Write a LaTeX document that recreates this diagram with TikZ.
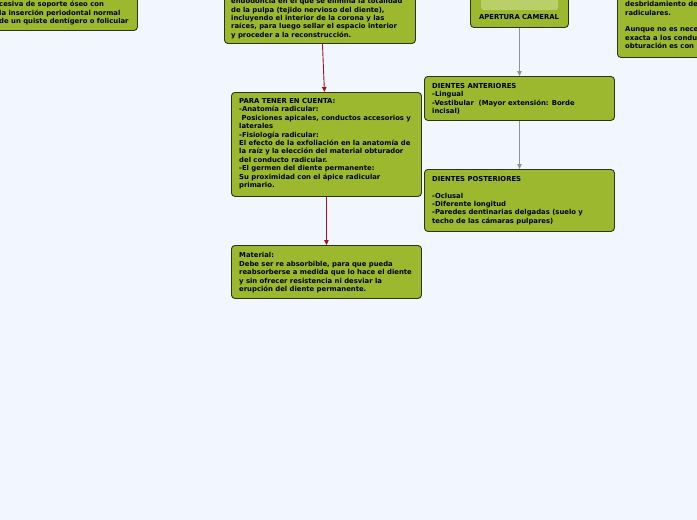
\documentclass[tikz,border=0pt]{standalone}
\usepackage{fontspec}
\setmainfont{DejaVu Sans}
\usetikzlibrary{arrows.meta}
\definecolor{bg}{HTML}{F2F6FE}
\definecolor{boxfill}{HTML}{9CB82E}
\definecolor{boxline}{HTML}{2E3318}
\definecolor{innerfill}{HTML}{B8CF6A}
\definecolor{redarrow}{HTML}{A3141C}
\definecolor{grayarrow}{HTML}{8F9296}
\begin{document}
\begin{tikzpicture}[x=1pt,y=1pt,
  box/.style={draw=boxline, fill=boxfill, line width=0.9pt, rounded corners=3.5pt, anchor=north west, inner sep=0pt},
  innerbox/.style={fill=innerfill, rounded corners=3pt, anchor=north west, inner sep=0pt},
  txt/.style={anchor=north west, inner sep=0pt, align=left, font=\fontsize{6.85}{8.4}\selectfont\bfseries, text=black},
  redline/.style={draw=redarrow, line width=0.9pt, -{Triangle[length=5pt,width=4.5pt]}},
  grayline/.style={draw=grayarrow, line width=0.9pt, -{Triangle[length=5pt,width=4.5pt]}}]
\fill[bg] (0,0) rectangle (697,-520);
\useasboundingbox (0,0) rectangle (697,-520);
\clip (0,0) rectangle (697,-520);

% top-left box
\node[box, minimum width=197, minimum height=50] (b1) at (-60,20) {};
\node[txt] (t1) at (-1,-1.2) {cesiva de soporte óseo con\\la inserción periodontal normal\\de un quiste dentígero o folicular};

% top-middle box
\node[box, minimum width=191, minimum height=63] (b2) at (224,20) {};
\node[txt] (t2) at (231,1.8) {endodoncia en el que se elimina la totalidad\\de la pulpa (tejido nervioso del diente),\\incluyendo el interior de la corona y las\\raíces, para luego sellar el espacio interior\\y proceder a la reconstrucción.};

% apertura cameral
\node[box, minimum width=98, minimum height=47] (b3) at (470,20) {};
\node[innerbox, minimum width=77, minimum height=30] (b3i) at (481,20) {};
\node[font=\fontsize{6.85}{8.4}\selectfont\bfseries, inner sep=0pt] (t3) at (519,-17) {APERTURA CAMERAL};

% right box
\node[box, minimum width=110, minimum height=77] (b4) at (617,20) {};
\node[txt] (t4) at (625,-1.2) {desbridamiento de\\radiculares.\\[8.4pt]Aunque no es nece\\exacta a los condu\\obturación es con};

% para tener en cuenta
\node[box, minimum width=190, minimum height=104] (b5) at (231,-92) {};
\node[txt] (t5) at (239,-98.2) {PARA TENER EN CUENTA:\\-Anatomía radicular:\\\ Posiciones apicales, conductos accesorios y\\laterales\\-Fisiología radicular:\\El efecto de la exfoliación en la anatomía de\\la raíz y la elección del material obturador\\del conducto radicular.\\-El germen del diente permanente:\\Su proximidad con el ápice radicular\\primario.};

% dientes anteriores
\node[box, minimum width=190, minimum height=44] (b6) at (424,-76) {};
\node[txt] (t6) at (432,-83) {DIENTES ANTERIORES\\-Lingual\\-Vestibular\ \ (Mayor extensión: Borde\\incisal)};

% dientes posteriores
\node[box, minimum width=190, minimum height=62] (b7) at (424,-169) {};
\node[txt] (t7) at (432,-176) {DIENTES POSTERIORES\\[8.4pt]-Oclusal\\-Diferente longitud\\-Paredes dentinarias delgadas (suelo y\\techo de las cámaras pulpares)};

% material
\node[box, minimum width=190, minimum height=53] (b8) at (231,-245) {};
\node[txt] (t8) at (239,-252.5) {Material:\\Debe ser re absorbible, para que pueda\\reabsorberse a medida que lo hace el diente\\y sin ofrecer resistencia ni desviar la\\erupción del diente permanente.};

% connectors
\draw[redline] ([xshift=2.5pt]b2.south) -- ([xshift=-2pt]b5.north);
\draw[redline] (b5.south) -- (b8.north);
\draw[grayline] (b3.south) -- (b6.north);
\draw[grayline] (b6.south) -- (b7.north);
\end{tikzpicture}
\end{document}
